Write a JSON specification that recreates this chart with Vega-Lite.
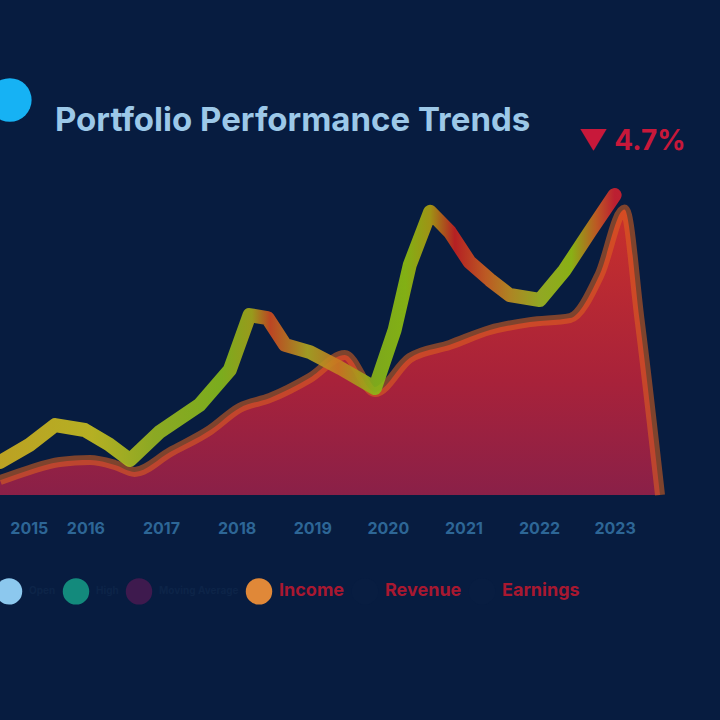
{
  "$schema": "https://vega.github.io/schema/vega-lite/v6.json",
  "width": 660,
  "height": 330,
  "autosize": {"type": "none"},
  "padding": {"left": 0, "top": 165, "right": 60, "bottom": 225},
  "background": "#071c40",
  "config": {"view": {"stroke": null}, "font": "Inter"},
  "title": {
    "text": "Portfolio Performance Trends",
    "anchor": "start",
    "frame": "group",
    "dx": 55,
    "offset": -60,
    "fontSize": 33,
    "fontWeight": "bold",
    "color": "#9cc8e8"
  },
  "datasets": {
    "line": [
      {"year": 2014.87, "v": 10.0}, {"year": 2015.26, "v": 15.2}, {"year": 2015.60, "v": 21.2},
      {"year": 2015.99, "v": 19.7}, {"year": 2016.32, "v": 15.2}, {"year": 2016.59, "v": 10.6},
      {"year": 2016.98, "v": 19.1}, {"year": 2017.51, "v": 27.3}, {"year": 2017.91, "v": 37.9},
      {"year": 2018.17, "v": 54.5}, {"year": 2018.41, "v": 53.6}, {"year": 2018.64, "v": 45.5},
      {"year": 2018.97, "v": 43.3}, {"year": 2019.37, "v": 38.5}, {"year": 2019.83, "v": 32.4},
      {"year": 2020.09, "v": 50.0}, {"year": 2020.29, "v": 69.7}, {"year": 2020.56, "v": 85.8},
      {"year": 2020.82, "v": 79.7}, {"year": 2021.08, "v": 70.6}, {"year": 2021.35, "v": 65.2},
      {"year": 2021.61, "v": 60.6}, {"year": 2022.01, "v": 59.1}, {"year": 2022.34, "v": 68.2},
      {"year": 2022.67, "v": 79.7}, {"year": 2023.00, "v": 90.9}
    ],
    "area": [
      {"year": 2014.87, "v": 4.5}, {"year": 2015.26, "v": 7.6}, {"year": 2015.66, "v": 10.0},
      {"year": 2016.06, "v": 10.6}, {"year": 2016.39, "v": 9.1}, {"year": 2016.65, "v": 7.0},
      {"year": 2017.12, "v": 13.0}, {"year": 2017.65, "v": 19.7}, {"year": 2018.04, "v": 26.4},
      {"year": 2018.44, "v": 29.4}, {"year": 2018.97, "v": 35.5}, {"year": 2019.43, "v": 42.4},
      {"year": 2019.83, "v": 31.2}, {"year": 2020.29, "v": 41.5}, {"year": 2020.82, "v": 45.5},
      {"year": 2021.35, "v": 50.0}, {"year": 2021.88, "v": 52.4}, {"year": 2022.41, "v": 53.6},
      {"year": 2022.80, "v": 66.7}, {"year": 2023.13, "v": 86.5}, {"year": 2023.33, "v": 53.0},
      {"year": 2023.60, "v": 0}
    ],
    "legend": [
      {"year": 2015, "v": 0, "series": "Open"},
      {"year": 2015, "v": 0, "series": "High"},
      {"year": 2015, "v": 0, "series": "Moving Average"},
      {"year": 2015, "v": 0, "series": "Income"},
      {"year": 2015, "v": 0, "series": "Revenue"},
      {"year": 2015, "v": 0, "series": "Earnings"}
    ],
    "marker": [{"year": 2015.0, "v": 119.7}],
    "badge": [{"year": 2023.23, "v": 107.0, "label": "▼ 4.7%"}]
  },
  "layer": [
    {
      "data": {"name": "area"},
      "mark": {
        "type": "area",
        "interpolate": "monotone",
        "color": {
          "gradient": "linear", "x1": 0, "y1": 0, "x2": 0, "y2": 1,
          "stops": [
            {"offset": 0, "color": "#c8302c"},
            {"offset": 0.6, "color": "#a8223a"},
            {"offset": 1, "color": "#8a2048"}
          ]
        }
      },
      "encoding": {
        "x": {"field": "year", "type": "quantitative",
          "scale": {"domain": [2014.87, 2023.6], "nice": false, "zero": false},
          "axis": {"values": [2015, 2016, 2017, 2018, 2019, 2020, 2021, 2022, 2023], "format": "d",
            "title": null, "domain": false, "ticks": false, "grid": false,
            "labelAlign": {"expr": "datum.value == 2015 ? 'left' : 'center'"},
            "labelColor": "#2d6696", "labelFontSize": 16, "labelFontWeight": "bold", "labelPadding": 25}},
        "y": {"field": "v", "type": "quantitative",
          "scale": {"domain": [0, 100], "nice": false}, "axis": null}
      }
    },
    {
      "data": {"name": "area"},
      "mark": {"type": "line", "interpolate": "monotone", "color": "#e0641e", "strokeWidth": 10, "opacity": 0.55},
      "encoding": {
        "x": {"field": "year", "type": "quantitative"},
        "y": {"field": "v", "type": "quantitative"}
      }
    },
    {
      "data": {"name": "line"},
      "mark": {
        "type": "line",
        "strokeWidth": 14,
        "strokeCap": "round",
        "strokeJoin": "round",
        "opacity": 0.9,
        "color": {
          "gradient": "linear", "x1": 0, "y1": 0, "x2": 1, "y2": 0,
          "stops": [
            {"offset": 0, "color": "#d0b020"},
            {"offset": 0.15, "color": "#c8c020"},
            {"offset": 0.25, "color": "#9ab820"},
            {"offset": 0.36, "color": "#88bc1a"},
            {"offset": 0.41, "color": "#a8a818"},
            {"offset": 0.44, "color": "#d04a20"},
            {"offset": 0.5, "color": "#b0a820"},
            {"offset": 0.55, "color": "#c87a20"},
            {"offset": 0.61, "color": "#8ab818"},
            {"offset": 0.66, "color": "#90c010"},
            {"offset": 0.7, "color": "#b0a010"},
            {"offset": 0.74, "color": "#c82020"},
            {"offset": 0.79, "color": "#d06020"},
            {"offset": 0.83, "color": "#c09020"},
            {"offset": 0.88, "color": "#a0b820"},
            {"offset": 0.93, "color": "#98c010"},
            {"offset": 0.97, "color": "#d06020"},
            {"offset": 1, "color": "#d02030"}
          ]
        }
      },
      "encoding": {
        "x": {"field": "year", "type": "quantitative"},
        "y": {"field": "v", "type": "quantitative"}
      }
    },
    {
      "data": {"name": "marker"},
      "mark": {"type": "point", "filled": true, "size": 1900, "color": "#16b2f4", "opacity": 1},
      "encoding": {
        "x": {"field": "year", "type": "quantitative"},
        "y": {"field": "v", "type": "quantitative"}
      }
    },
    {
      "data": {"name": "badge"},
      "mark": {"type": "text", "fontSize": 28, "fontWeight": "bold", "color": "#c8183a", "align": "center", "baseline": "middle"},
      "encoding": {
        "x": {"field": "year", "type": "quantitative"},
        "y": {"field": "v", "type": "quantitative"},
        "text": {"field": "label"}
      }
    },
    {
      "data": {"name": "legend"},
      "mark": {"type": "point", "filled": true, "opacity": 0},
      "encoding": {
        "x": {"field": "year", "type": "quantitative"},
        "y": {"field": "v", "type": "quantitative"},
        "color": {
          "field": "series", "type": "nominal",
          "scale": {
            "domain": ["Open", "High", "Moving Average", "Income", "Revenue", "Earnings"],
            "range": ["#8cc8ee", "#138a7c", "#3e1a4e", "#e08838", "#081d41", "#081d41"]
          },
          "legend": {
            "title": null,
            "orient": "none",
            "legendX": -5,
            "legendY": 412,
            "direction": "horizontal",
            "symbolType": "circle",
            "symbolSize": 700,
            "labelFontSize": 18,
            "labelFontWeight": "bold",
            "labelColor": "#a81830",
            "labelOffset": 6,
            "columnPadding": 6,
            "encode": {
              "symbols": {"update": {"opacity": {"value": 1}, "size": {"value": 700}}},
              "labels": {"update": {
                "fill": {"signal": "indexof(['Income','Revenue','Earnings'], datum.label) >= 0 ? '#a81830' : '#0d2448'"},
                "fontSize": {"signal": "indexof(['Income','Revenue','Earnings'], datum.label) >= 0 ? 18 : 10"}
              }}
            }
          }
        }
      }
    }
  ]
}
